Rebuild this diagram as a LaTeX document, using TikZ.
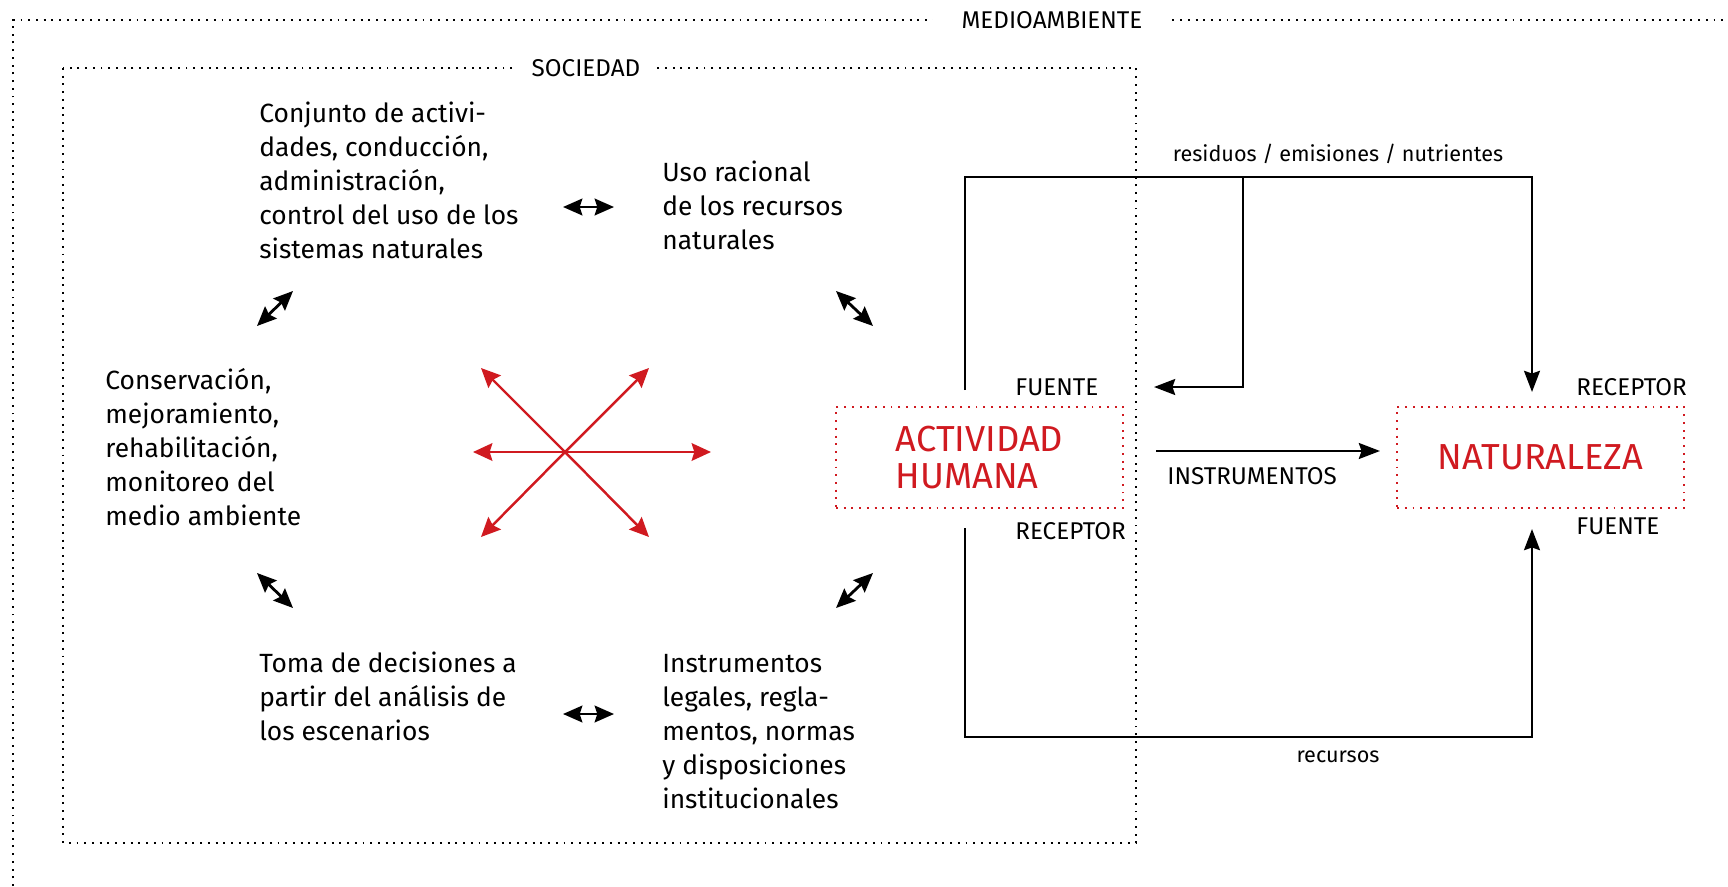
\documentclass[tikz,border=0pt]{standalone}
\usepackage{fontspec}
\setmainfont{Fira Sans}
\usetikzlibrary{arrows.meta}
\definecolor{rojo}{RGB}{208,26,32}

\begin{document}
\begin{tikzpicture}[>=Stealth, x=0.02cm, y=-0.02cm,
  every node/.style={inner sep=0pt},
  texto/.style={anchor=base west, align=left, font=\fontsize{15}{19.3}\selectfont},
  etiq/.style={font=\fontsize{13.8}{16}\selectfont},
  minus/.style={font=\fontsize{12.3}{15}\selectfont},
  marco/.style={line width=1.1pt, dash pattern=on 1.1pt off 3.3pt},
  caja/.style={draw=rojo, marco, text=rojo, align=left, minimum width=5.74cm, minimum height=2.02cm, font=\fontsize{20.6}{21.5}\selectfont},
  doble/.style={{Stealth[length=11pt,width=9.5pt,inset=1.5pt]}-{Stealth[length=11pt,width=9.5pt,inset=1.5pt]}, line width=1.6pt},
  flecha/.style={-{Stealth[length=12pt,width=9pt,inset=1.5pt]}, line width=1.6pt},
  roja/.style={{Stealth[length=11pt,width=10pt,inset=1.5pt]}-{Stealth[length=11pt,width=10pt,inset=1.5pt]}, draw=rojo, line width=1.4pt}]
  \useasboundingbox (0,0) rectangle (1728,886);
  % marcos
  \draw[marco] (13,886) -- (13,20) -- (1728,20);
  \node[etiq, fill=white, inner xsep=16pt] (medio) at (1052,20) {MEDIOAMBIENTE};
  \draw[marco] (63,68) rectangle (1136,843);
  \node[etiq, fill=white, inner xsep=8pt] (soc) at (586,68) {SOCIEDAD};
  % textos de la sociedad (base = ultima linea)
  \node[texto] (conj) at (259,258) {Conjunto de activi-\\dades, conducción,\\administración,\\control del uso de los\\sistemas naturales};
  \node[texto] (uso) at (662,249) {Uso racional\\de los recursos\\naturales};
  \node[texto] (cons) at (105,525) {Conservación,\\mejoramiento,\\rehabilitación,\\monitoreo del\\medio ambiente};
  \node[texto] (toma) at (259,740) {Toma de decisiones a\\partir del análisis de\\los escenarios};
  \node[texto] (inst) at (662,808) {Instrumentos\\legales, regla-\\mentos, normas\\y disposiciones\\institucionales};
  % flechas dobles
  \draw[doble] (563,207) -- (614,207);
  \draw[doble] (563,714) -- (614,714);
  \draw[doble] (257,326) -- (293,291);
  \draw[doble] (836,291) -- (873,326);
  \draw[doble] (257,573) -- (293,608);
  \draw[doble] (836,608) -- (873,573);
  % estrella roja
  \coordinate (c) at (565,452);
  \draw[roja] (473,452) -- (c) -- (711,452);
  \draw[roja] (481,368) -- (c) -- (649,537);
  \draw[roja] (649,368) -- (c) -- (481,537);
  % cajas
  \node[caja] (act) at (979.5,457.5) {ACTIVIDAD\\HUMANA};
  \node[caja] (nat) at (1540.5,457.5) {NATURALEZA};
  \node[etiq, anchor=west] (fa) at (1015,387) {FUENTE};
  \node[etiq, anchor=west] (ra) at (1015,531) {RECEPTOR};
  \node[etiq, anchor=west] (rn) at (1576,387) {RECEPTOR};
  \node[etiq, anchor=west] (fn) at (1576,526) {FUENTE};
  % conectores
  \coordinate (s1) at (965,390);
  \coordinate (s2) at (965,528);
  \coordinate (e1) at (1532,392);
  \coordinate (e2) at (1532,529);
  \coordinate (ramal) at (1243,177);
  \coordinate (v1) at (1154,387);
  \coordinate (i1) at (1156,451);
  \coordinate (i2) at (1380,451);
  \draw[flecha] (s1) |- (ramal) -| (e1);
  \draw[flecha] (ramal) |- (v1);
  \draw[flecha] (s2) -- ++(0,209) -| (e2);
  \draw[flecha] (i1) -- (i2);
  \node[minus] (res) at (1338,154) {residuos / emisiones / nutrientes};
  \node[minus] (rec) at (1338,757) {recursos};
  \node[etiq, anchor=west] (ins) at (1167,476) {INSTRUMENTOS};
\end{tikzpicture}
\end{document}
